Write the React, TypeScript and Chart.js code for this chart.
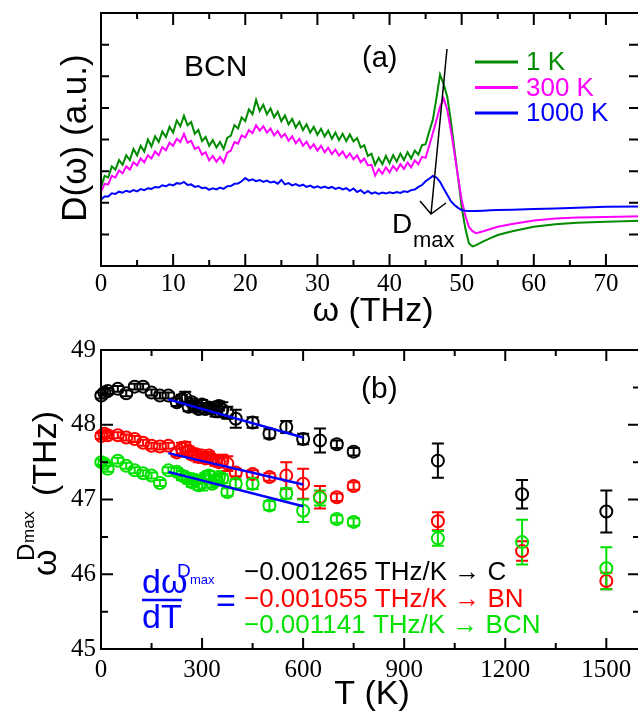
import React, { useEffect, useRef } from 'react';
import { Chart, registerables } from 'chart.js';

Chart.register(...registerables);

// ---------------- Panel (a): phonon DOS of BCN ----------------
const omegaTHz = [
  0, 0.5, 1, 1.5, 2, 2.5, 3, 3.5, 4, 4.5, 5, 5.5, 6, 6.5, 7, 7.5, 8, 8.5, 9, 9.5,
  10, 10.5, 11, 11.5, 12, 12.5, 13, 13.5, 14, 14.5, 15, 15.5, 16, 16.5, 17, 17.5, 18, 18.5, 19, 19.5,
  20, 20.5, 21, 21.5, 22, 22.5, 23, 23.5, 24, 24.5, 25, 25.5, 26, 26.5, 27, 27.5, 28, 28.5, 29, 29.5,
  30, 30.5, 31, 31.5, 32, 32.5, 33, 33.5, 34, 34.5, 35, 35.5, 36, 36.5, 37, 37.5, 38, 38.5, 39, 39.5,
  40, 40.5, 41, 41.5, 42, 42.5, 43, 43.5, 44, 44.5, 45, 45.5,
  46, 46.5, 47, 47.5, 48, 48.5, 49, 49.5, 50, 50.5, 51, 51.5, 52, 53, 54, 55, 57, 60, 63, 66, 70, 75, 80,
];
const dos1K = [
  2.5, 2.85, 2.8, 3.15, 3.05, 3.35, 3.2, 3.5, 3.35, 3.7,
  3.5, 3.8, 3.62, 4.0, 3.78, 4.1, 3.92, 4.25, 4.08, 4.4,
  4.22, 4.6, 4.42, 4.75, 4.45, 4.55, 4.18, 4.3, 3.95, 4.08,
  3.8, 3.98, 3.75, 3.92, 3.7, 4.05, 4.12, 4.45, 4.35, 4.7,
  4.58, 4.95, 4.8, 5.25, 4.9, 5.1, 4.8, 4.98, 4.7, 4.88,
  4.58, 4.76, 4.48, 4.65, 4.38, 4.56, 4.3, 4.48, 4.22, 4.4,
  4.15, 4.34, 4.1, 4.28, 4.02, 4.22, 3.98, 4.18, 3.95, 4.16,
  3.94, 4.05, 3.75, 3.82, 3.48, 3.55, 3.2, 3.42, 3.22, 3.48,
  3.25, 3.5, 3.3, 3.55, 3.35, 3.6, 3.4, 3.65, 3.52, 3.82,
  3.85, 4.25,
  4.62, 5.3, 6.05, 5.75, 5.35, 4.6, 3.67, 2.8, 1.87, 1.2, 0.72, 0.62, 0.66, 0.78, 0.88, 0.98, 1.1, 1.24, 1.32, 1.37, 1.4, 1.43, 1.45,
];
const dos300K = [
  2.35, 2.6, 2.58, 2.85, 2.8, 3.02, 2.93, 3.15, 3.05, 3.28,
  3.18, 3.4, 3.28, 3.5, 3.4, 3.62, 3.5, 3.76, 3.66, 3.9,
  3.8, 4.02, 3.92, 4.18, 3.9, 3.96, 3.7, 3.76, 3.52, 3.6,
  3.34, 3.48, 3.3, 3.45, 3.27, 3.58, 3.65, 3.92, 3.87, 4.13,
  4.07, 4.3, 4.2, 4.45, 4.28, 4.42, 4.22, 4.35, 4.13, 4.27,
  4.07, 4.18, 3.96, 4.1, 3.88, 4.02, 3.8, 3.93, 3.72, 3.85,
  3.65, 3.8, 3.6, 3.74, 3.54, 3.68, 3.49, 3.62, 3.42, 3.56,
  3.37, 3.5, 3.28, 3.4, 3.18, 3.2, 2.86, 3.06, 2.92, 3.12,
  2.96, 3.16, 3.02, 3.22, 3.07, 3.27, 3.12, 3.34, 3.22, 3.45,
  3.42, 3.8,
  4.2, 4.6, 5.03, 5.3, 4.94, 4.3, 3.57, 2.8, 2.09, 1.6, 1.24, 1.1, 1.04, 1.1, 1.17, 1.24, 1.33, 1.44, 1.5, 1.53, 1.55, 1.57, 1.58,
];
const dos1000K = [
  2.1, 2.2, 2.2, 2.3, 2.28, 2.35, 2.32, 2.38, 2.34, 2.4,
  2.36, 2.43, 2.4, 2.46, 2.44, 2.5, 2.48, 2.55, 2.52, 2.58,
  2.55, 2.62, 2.6, 2.66, 2.56, 2.58, 2.5, 2.53, 2.46, 2.48,
  2.41, 2.46, 2.42, 2.48, 2.44, 2.52, 2.53, 2.6, 2.61, 2.68,
  2.78, 2.7, 2.74, 2.68, 2.72, 2.66, 2.7, 2.64, 2.67, 2.6,
  2.72, 2.58, 2.62, 2.55, 2.59, 2.53, 2.57, 2.5, 2.54, 2.48,
  2.52, 2.47, 2.51, 2.46, 2.5, 2.44, 2.48, 2.42, 2.46, 2.38,
  2.45, 2.34, 2.4, 2.3, 2.37, 2.29, 2.33, 2.28, 2.32, 2.29,
  2.33, 2.3, 2.34, 2.31, 2.36, 2.34, 2.4, 2.42, 2.5, 2.56,
  2.68, 2.76,
  2.85, 2.8, 2.66, 2.45, 2.25, 2.05, 1.93, 1.84, 1.77, 1.75, 1.74, 1.74, 1.74, 1.75, 1.76, 1.77, 1.78, 1.8, 1.82, 1.84, 1.87, 1.88, 1.89,
];
const seriesLabelsA = ['1 K', '300 K', '1000 K'];
const xMajorA = [0, 10, 20, 30, 40, 50, 60, 70];
const xMinorA = [5, 15, 25, 35, 45, 55, 65, 75];
const yTicksA = [1, 2, 3, 4, 5, 6, 7];

// ---------------- Panel (b): omega^Dmax vs T ----------------
const tempK = [1, 10, 20, 50, 75, 100, 125, 150, 175, 200, 225, 240, 250, 260, 270, 280, 290, 300, 310, 320, 330, 340, 350, 360, 375, 400, 450, 500, 550, 600, 650, 700, 750, 1000, 1250, 1500];
const wC = [48.39, 48.43, 48.45, 48.48, 48.42, 48.51, 48.51, 48.43, 48.39, 48.39, 48.30, 48.34, 48.36, 48.24, 48.30, 48.25, 48.21, 48.27, 48.21, 48.23, 48.22, 48.18, 48.25, 48.20, 48.16, 48.08, 48.03, 47.88, 47.97, 47.81, 47.79, 47.74, 47.64, 47.52, 47.07, 46.84];
const errC = [0.04, 0.04, 0.04, 0.04, 0.04, 0.04, 0.04, 0.04, 0.04, 0.04, 0.05, 0.06, 0.08, 0.06, 0.05, 0.06, 0.05, 0.06, 0.05, 0.06, 0.05, 0.07, 0.06, 0.10, 0.08, 0.12, 0.07, 0.06, 0.08, 0.07, 0.16, 0.05, 0.05, 0.23, 0.19, 0.28];
const wBN = [47.85, 47.88, 47.86, 47.86, 47.83, 47.81, 47.76, 47.72, 47.71, 47.72, 47.63, 47.68, 47.70, 47.65, 47.60, 47.61, 47.57, 47.59, 47.55, 47.59, 47.54, 47.52, 47.50, 47.52, 47.48, 47.36, 47.34, 47.30, 47.32, 47.21, 47.03, 47.03, 47.18, 46.71, 46.31, 45.91];
const errBN = [0.04, 0.04, 0.04, 0.04, 0.04, 0.04, 0.04, 0.04, 0.04, 0.04, 0.05, 0.08, 0.07, 0.06, 0.05, 0.06, 0.07, 0.05, 0.06, 0.05, 0.06, 0.07, 0.06, 0.08, 0.10, 0.05, 0.05, 0.05, 0.18, 0.20, 0.15, 0.05, 0.05, 0.12, 0.13, 0.11];
const wBCN = [47.50, 47.48, 47.41, 47.52, 47.45, 47.39, 47.35, 47.32, 47.22, 47.39, 47.37, 47.32, 47.30, 47.28, 47.23, 47.26, 47.19, 47.22, 47.30, 47.32, 47.21, 47.25, 47.30, 47.28, 47.10, 47.21, 47.21, 46.92, 47.08, 46.85, 47.02, 46.74, 46.70, 46.48, 46.43, 46.08];
const errBCN = [0.04, 0.04, 0.04, 0.04, 0.04, 0.04, 0.04, 0.04, 0.04, 0.04, 0.05, 0.06, 0.05, 0.07, 0.06, 0.05, 0.06, 0.10, 0.05, 0.06, 0.05, 0.06, 0.05, 0.06, 0.05, 0.06, 0.07, 0.06, 0.07, 0.15, 0.10, 0.05, 0.05, 0.10, 0.30, 0.28];
const fitT = [200, 600];
const fitC = [48.34, 47.83];
const fitBN = [47.62, 47.20];
const fitBCN = [47.37, 46.91];
const slopeLabels = ['\u22120.001265 THz/K \u2192 C', '\u22120.001055 THz/K \u2192 BN', '\u22120.001141 THz/K \u2192 BCN'];
const xMajorB = [0, 300, 600, 900, 1200, 1500];
const xMinorB = [150, 450, 750, 1050, 1350];
const yMajorB = [45, 46, 47, 48, 49];
const yMinorB = [45.5, 46.5, 47.5, 48.5];

const SANS = '"Liberation Sans", Arial, "DejaVu Sans", sans-serif';
const SERIF = '"Liberation Serif", "Times New Roman", serif';
const GREEN_DARK = 'rgb(0,139,0)';
const MAGENTA = '#ff00ff';
const BLUE = '#0000ff';
const RED = '#ff0000';
const GREEN = 'rgb(0,225,0)';

function drawFrame(ctx: any, a: any, x: any, y: any, s: any) {
  ctx.save();
  ctx.strokeStyle = '#000';
  ctx.lineWidth = 2;
  ctx.beginPath();
  for (const v of s.xMajor) {
    const p = x.getPixelForValue(v);
    ctx.moveTo(p, a.bottom); ctx.lineTo(p, a.bottom - s.xMaj);
    ctx.moveTo(p, a.top); ctx.lineTo(p, a.top + s.xMaj);
  }
  for (const v of s.xMinor) {
    const p = x.getPixelForValue(v);
    ctx.moveTo(p, a.bottom); ctx.lineTo(p, a.bottom - s.xMin);
    ctx.moveTo(p, a.top); ctx.lineTo(p, a.top + s.xMin);
  }
  for (const v of s.yMajor) {
    const p = y.getPixelForValue(v);
    ctx.moveTo(a.left, p); ctx.lineTo(a.left + s.yMaj, p);
    ctx.moveTo(a.right, p); ctx.lineTo(a.right - s.yMajR, p);
  }
  for (const v of s.yMinor) {
    const p = y.getPixelForValue(v);
    ctx.moveTo(a.left, p); ctx.lineTo(a.left + s.yMin, p);
    ctx.moveTo(a.right, p); ctx.lineTo(a.right - s.yMinR, p);
  }
  ctx.stroke();
  ctx.strokeRect(a.left, a.top, a.right - a.left, a.bottom - a.top);
  ctx.restore();
}

const decorA = {
  id: 'decorA',
  afterDraw(chart: any) {
    const { ctx, chartArea: a, scales } = chart;
    drawFrame(ctx, a, scales.x, scales.y, { xMajor: xMajorA, xMinor: xMinorA, yMajor: yTicksA, yMinor: [], xMaj: 12, xMin: 6, yMaj: 8, yMajR: 13, yMin: 0, yMinR: 0 });
    ctx.save();
    ctx.fillStyle = '#000';
    ctx.textBaseline = 'alphabetic';
    // y title
    ctx.save();
    ctx.translate(86, 138);
    ctx.rotate(-Math.PI / 2);
    ctx.textAlign = 'center';
    ctx.font = `35px ${SANS}`;
    ctx.fillText('D(\u03c9) (a.u.)', 0, 0);
    ctx.restore();
    // x title
    ctx.textAlign = 'center';
    ctx.font = `34px ${SANS}`;
    ctx.fillText('\u03c9 (THz)', 373, 321);
    // labels
    ctx.textAlign = 'left';
    ctx.font = `30px ${SANS}`;
    ctx.fillText('BCN', 184, 76);
    ctx.font = `29px ${SANS}`;
    ctx.fillText('(a)', 362, 67);
    // legend
    const cols = [GREEN_DARK, MAGENTA, BLUE];
    const ly = [62, 87.5, 113];
    ctx.lineWidth = 3;
    ctx.font = `26px ${SANS}`;
    ctx.textBaseline = 'middle';
    cols.forEach((c, i) => {
      ctx.strokeStyle = c;
      ctx.beginPath();
      ctx.moveTo(475, ly[i]);
      ctx.lineTo(518, ly[i]);
      ctx.stroke();
      ctx.fillStyle = c;
      ctx.fillText(seriesLabelsA[i], 526, ly[i] + 1);
    });
    // arrow + D_max
    ctx.strokeStyle = '#000';
    ctx.lineWidth = 1.5;
    ctx.beginPath();
    ctx.moveTo(447, 49);
    ctx.lineTo(431, 214);
    ctx.moveTo(420, 201);
    ctx.lineTo(431, 214);
    ctx.lineTo(446, 203);
    ctx.stroke();
    ctx.fillStyle = '#000';
    ctx.textBaseline = 'alphabetic';
    ctx.font = `28px ${SANS}`;
    ctx.fillText('D', 392, 233);
    ctx.font = `22px ${SANS}`;
    ctx.fillText('max', 413, 247);
    ctx.restore();
  },
};

const errorBars = {
  id: 'errorBars',
  beforeDatasetsDraw(chart: any) {
    const { ctx, scales } = chart;
    const x = scales.x, y = scales.y;
    const sets = [
      { w: wC, e: errC, c: '#000' },
      { w: wBN, e: errBN, c: RED },
      { w: wBCN, e: errBCN, c: GREEN },
    ];
    ctx.save();
    ctx.lineWidth = 2;
    for (const s of sets) {
      ctx.strokeStyle = s.c;
      ctx.beginPath();
      tempK.forEach((t, i) => {
        const px = x.getPixelForValue(t);
        const top = y.getPixelForValue(s.w[i] + s.e[i]);
        const bot = y.getPixelForValue(s.w[i] - s.e[i]);
        ctx.moveTo(px, top); ctx.lineTo(px, bot);
        ctx.moveTo(px - 6, top); ctx.lineTo(px + 6, top);
        ctx.moveTo(px - 6, bot); ctx.lineTo(px + 6, bot);
      });
      ctx.stroke();
    }
    ctx.restore();
  },
};

const decorB = {
  id: 'decorB',
  afterDraw(chart: any) {
    const { ctx, chartArea: a, scales } = chart;
    drawFrame(ctx, a, scales.x, scales.y, { xMajor: xMajorB, xMinor: xMinorB, yMajor: yMajorB, yMinor: yMinorB, xMaj: 11, xMin: 6, yMaj: 12, yMajR: 12, yMin: 7, yMinR: 7 });
    ctx.save();
    ctx.fillStyle = '#000';
    ctx.textBaseline = 'alphabetic';
    // y title: omega^{D_max} (THz)
    ctx.save();
    ctx.translate(56, 576);
    ctx.rotate(-Math.PI / 2);
    ctx.textAlign = 'left';
    ctx.font = `34px ${SANS}`;
    ctx.fillText('\u03c9', 0, 0);
    ctx.font = `24px ${SANS}`;
    ctx.fillText('D', 15, -22);
    ctx.font = `17px ${SANS}`;
    ctx.fillText('max', 33, -22);
    ctx.font = `34px ${SANS}`;
    ctx.fillText('(THz)', 80, 0);
    ctx.restore();
    // x title
    ctx.textAlign = 'center';
    ctx.font = `34px ${SANS}`;
    ctx.fillText('T (K)', 372, 704);
    // (b)
    ctx.textAlign = 'left';
    ctx.font = `30px ${SANS}`;
    ctx.fillText('(b)', 361, 398);
    // formula
    ctx.fillStyle = BLUE;
    ctx.font = `34px ${SANS}`;
    ctx.fillText('d\u03c9', 142, 593);
    ctx.fillText('dT', 142, 628);
    ctx.fillText('=', 216, 612);
    ctx.font = `19px ${SANS}`;
    ctx.fillText('D', 177, 577);
    ctx.font = `13px ${SANS}`;
    ctx.fillText('max', 190, 584);
    ctx.strokeStyle = BLUE;
    ctx.lineWidth = 2.5;
    ctx.beginPath();
    ctx.moveTo(142, 600);
    ctx.lineTo(182, 600);
    ctx.stroke();
    // slopes
    const cols = ['#000', RED, GREEN];
    const by = [580, 607, 633];
    ctx.font = `26px ${SANS}`;
    slopeLabels.forEach((t, i) => {
      ctx.fillStyle = cols[i];
      ctx.fillText(t, 244, by[i]);
    });
    ctx.restore();
  },
};

export default function App() {
  const refA = useRef<HTMLCanvasElement>(null);
  const refB = useRef<HTMLCanvasElement>(null);

  useEffect(() => {
    const tickFont = { family: SERIF, size: 25, weight: 'normal' as const };
    const plain = (v: any) => String(v);
    const mk = (xs: number[], ys: number[]) => xs.map((v, i) => ({ x: v, y: ys[i] }));

    const chartA = new Chart(refA.current as HTMLCanvasElement, {
      type: 'line',
      data: {
        datasets: [
          { label: seriesLabelsA[2], data: mk(omegaTHz, dos1000K), borderColor: BLUE, borderWidth: 2, pointRadius: 0, order: 0 },
          { label: seriesLabelsA[1], data: mk(omegaTHz, dos300K), borderColor: MAGENTA, borderWidth: 2, pointRadius: 0, order: 1 },
          { label: seriesLabelsA[0], data: mk(omegaTHz, dos1K), borderColor: GREEN_DARK, borderWidth: 2, pointRadius: 0, order: 2 },
        ],
      },
      options: {
        responsive: false,
        animation: false,
        devicePixelRatio: 1,
        events: [],
        layout: { padding: { top: 13, left: 0, right: 18, bottom: 0 } },
        elements: { line: { tension: 0 } },
        plugins: { legend: { display: false }, tooltip: { enabled: false }, title: { display: false } },
        scales: {
          x: {
            type: 'linear', min: 0, max: 75,
            grid: { display: false, drawTicks: false }, border: { display: false },
            afterBuildTicks: (s: any) => { s.ticks = xMajorA.map((v) => ({ value: v })); },
            afterFit: (s: any) => { s.height = 74; },
            ticks: { font: tickFont, color: '#000', padding: 3, maxRotation: 0, autoSkip: false, callback: plain },
          },
          y: {
            type: 'linear', min: 0, max: 8,
            grid: { display: false, drawTicks: false }, border: { display: false },
            afterFit: (s: any) => { s.width = 101; },
            ticks: { display: false },
          },
        },
      },
      plugins: [decorA],
    } as any);

    const chartB = new Chart(refB.current as HTMLCanvasElement, {
      type: 'scatter',
      data: {
        datasets: [
          { label: 'fit C', data: mk(fitT, fitC), showLine: true, borderColor: BLUE, borderWidth: 2.5, pointRadius: 0, order: 0 },
          { label: 'fit BN', data: mk(fitT, fitBN), showLine: true, borderColor: BLUE, borderWidth: 2.5, pointRadius: 0, order: 0 },
          { label: 'fit BCN', data: mk(fitT, fitBCN), showLine: true, borderColor: BLUE, borderWidth: 2.5, pointRadius: 0, order: 0 },
          { label: 'BCN', data: mk(tempK, wBCN), borderColor: GREEN, backgroundColor: 'rgba(0,0,0,0)', pointRadius: 6, pointBorderWidth: 2, clip: false, order: 1 },
          { label: 'BN', data: mk(tempK, wBN), borderColor: RED, backgroundColor: 'rgba(0,0,0,0)', pointRadius: 6, pointBorderWidth: 2, clip: false, order: 2 },
          { label: 'C', data: mk(tempK, wC), borderColor: '#000', backgroundColor: 'rgba(0,0,0,0)', pointRadius: 6, pointBorderWidth: 2, clip: false, order: 3 },
        ],
      },
      options: {
        responsive: false,
        animation: false,
        devicePixelRatio: 1,
        events: [],
        layout: { padding: { top: 350, left: 0, right: 20, bottom: 0 } },
        plugins: { legend: { display: false }, tooltip: { enabled: false }, title: { display: false } },
        scales: {
          x: {
            type: 'linear', min: 0, max: 1600,
            grid: { display: false, drawTicks: false }, border: { display: false },
            afterBuildTicks: (s: any) => { s.ticks = xMajorB.map((v) => ({ value: v })); },
            afterFit: (s: any) => { s.height = 62; },
            ticks: { font: tickFont, color: '#000', padding: 6, maxRotation: 0, autoSkip: false, callback: plain },
          },
          y: {
            type: 'linear', min: 45, max: 49,
            grid: { display: false, drawTicks: false }, border: { display: false },
            afterBuildTicks: (s: any) => { s.ticks = yMajorB.map((v) => ({ value: v })); },
            afterFit: (s: any) => { s.width = 101; },
            ticks: { font: tickFont, color: '#000', padding: 5, autoSkip: false, callback: plain },
          },
        },
      },
      plugins: [errorBars, decorB],
    } as any);

    return () => {
      chartA.destroy();
      chartB.destroy();
    };
  }, []);

  return (
    <div style={{ position: 'fixed', left: 0, top: 0, width: 638, height: 711, overflow: 'hidden', background: '#fff' }}>
      <canvas ref={refA} width={660} height={340} style={{ position: 'absolute', left: 0, top: 0, width: 660, height: 340 }} />
      <canvas ref={refB} width={660} height={711} style={{ position: 'absolute', left: 0, top: 0, width: 660, height: 711 }} />
    </div>
  );
}
